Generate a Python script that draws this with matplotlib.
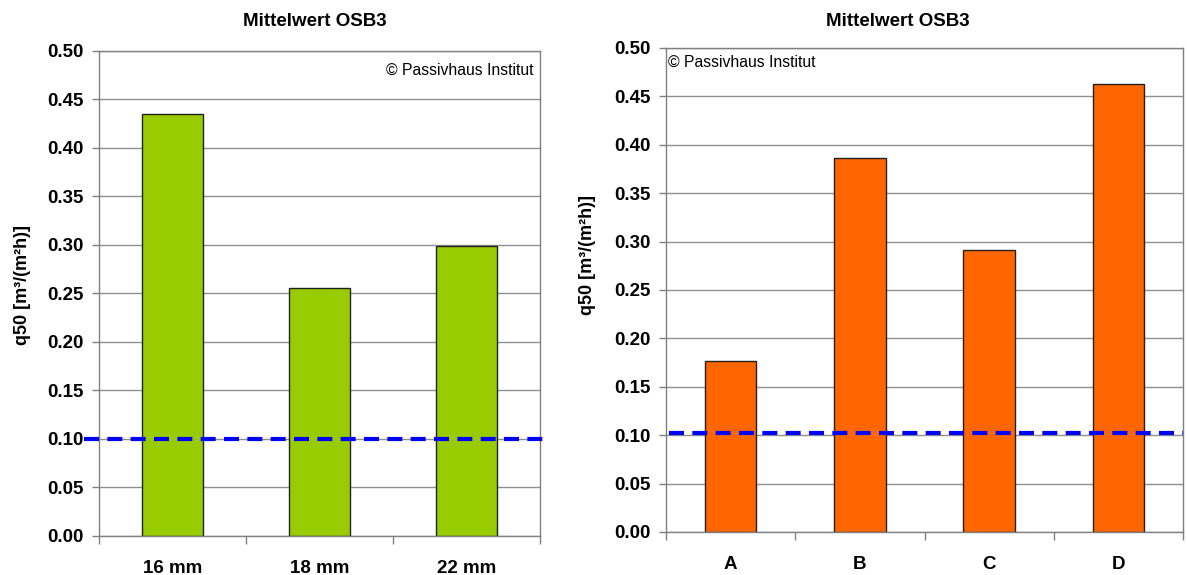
import matplotlib
matplotlib.use("Agg")
import matplotlib.pyplot as plt
import numpy as np

plt.rcParams['font.family'] = ['Liberation Sans', 'DejaVu Sans']

left_categories = ["16 mm", "18 mm", "22 mm"]
left_values = [0.435, 0.255, 0.299]
left_limit = 0.100

right_categories = ["A", "B", "C", "D"]
right_values = [0.177, 0.386, 0.291, 0.463]
right_limit = 0.102

yticks = [0.00, 0.05, 0.10, 0.15, 0.20, 0.25, 0.30, 0.35, 0.40, 0.45, 0.50]
title = "Mittelwert OSB3"
ylabel = "q50 [m³/(m²h)]"
credit = "© Passivhaus Institut"

W, H = 1187, 575
fig = plt.figure(figsize=(W / 100, H / 100), dpi=100)
ax1 = fig.add_axes([99 / W, 1 - 536 / H, (540 - 99) / W, (536 - 50.5) / H])
ax2 = fig.add_axes([666 / W, 1 - 532 / H, (1183 - 666) / W, (532 - 48) / H])


def draw(ax, cats, vals, color, limit, width, credit_pos, line_x, title_px, ylabel_px):
    n = len(cats)
    x = np.arange(n)
    ax.set_axisbelow(True)
    ax.bar(x, vals, width=width, color=color, edgecolor='#202020', linewidth=1.0, zorder=2)
    ax.set_xlim(-0.5, n - 0.5)
    ax.set_ylim(0, 0.5)
    ax.set_yticks(yticks)
    ax.set_yticklabels([f"{v:.2f}" for v in yticks], fontsize=13.5, fontweight='bold')
    ax.yaxis.grid(True, color='#909090', linewidth=1.0)
    ax.set_xticks(x)
    ax.set_xticklabels(cats, fontsize=13.5, fontweight='bold')
    ax.tick_params(axis='x', length=0, pad=17)
    ax.set_xticks(np.arange(n + 1) - 0.5, minor=True)
    ax.tick_params(axis='x', which='minor', length=5.5, color='#808080', width=1)
    ax.tick_params(axis='y', length=5, color='#808080', width=1, pad=6)
    for s in ax.spines.values():
        s.set_color('#808080')
        s.set_linewidth(1.0)
    ax.plot(line_x, [limit, limit], color='#0000FF', linestyle=(0, (3.6, 2.0)), linewidth=3.0,
            transform=ax.get_yaxis_transform(), clip_on=False, zorder=3)
    fig.text(title_px[0] / W, 1 - title_px[1] / H, title, ha='center', va='center',
             fontsize=13.5, fontweight='bold')
    fig.text(ylabel_px[0] / W, 1 - ylabel_px[1] / H, ylabel, ha='center', va='center',
             rotation=90, fontsize=13, fontweight='bold')
    cx, cy, ha = credit_pos
    ax.text(cx, cy, credit, transform=ax.transAxes, ha=ha, va='top', fontsize=11.3)


draw(ax1, left_categories, left_values, '#99CC00', left_limit, 0.41,
     (0.985, 0.975, 'right'), [-0.033, 1.018], (315, 22), (23, 285))
draw(ax2, right_categories, right_values, '#FF6600', right_limit, 0.40,
     (0.004, 0.985, 'left'), [0.005, 1.0], (898, 22), (588, 255))

fig.savefig("out.png", dpi=100, facecolor='white')
